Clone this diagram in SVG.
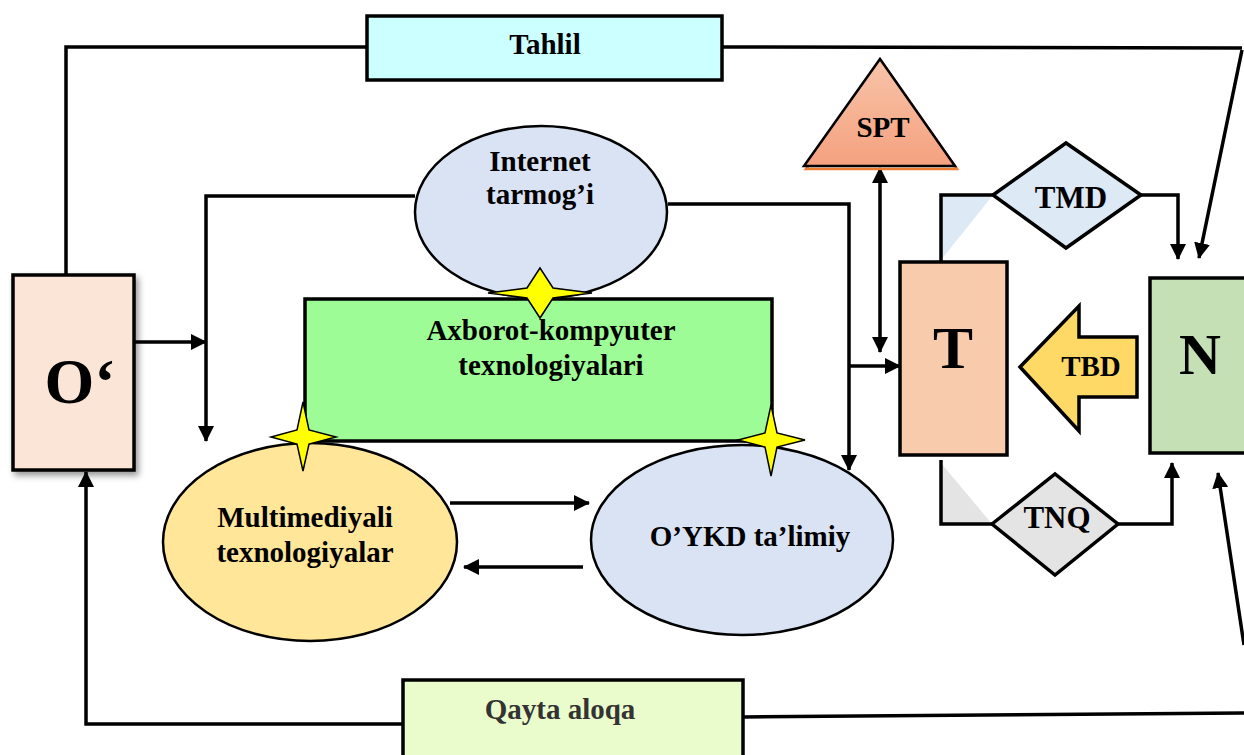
<svg xmlns="http://www.w3.org/2000/svg" width="1244" height="755" viewBox="0 0 1244 755">
<style>
  .lbl{font-family:"Liberation Serif","Times New Roman",serif;font-weight:bold;fill:#000;text-anchor:middle}
  .box{stroke:#000;stroke-width:3.5}
  .ell{stroke:#000;stroke-width:2.5}
  .con{fill:none;stroke:#000;stroke-width:3.5}
  .star{fill:#ffff00;stroke:#000;stroke-width:1.5}
</style>
<defs>
  <marker id="ah" markerUnits="userSpaceOnUse" markerWidth="16" markerHeight="16" refX="15" refY="8" orient="auto-start-reverse" viewBox="0 0 16 16">
    <path d="M0,0 L16,8 L0,16 z" fill="#000"/>
  </marker>
  <linearGradient id="spt" x1="0" y1="0" x2="0" y2="1">
    <stop offset="0" stop-color="#f8c4a8"/>
    <stop offset="1" stop-color="#f4a17f"/>
  </linearGradient>
  <filter id="sh" x="-20%" y="-20%" width="150%" height="150%">
    <feDropShadow dx="3" dy="4" stdDeviation="3" flood-color="#000" flood-opacity="0.4"/>
  </filter>
</defs>

<g id="connectors">
  <!-- Tahlil loop -->
  <polyline class="con" points="367,47 66,47 66,275"/>
  <polyline class="con" points="722,47 1242,48"/>
  <line class="con" x1="1242" y1="50" x2="1199" y2="258" marker-end="url(#ah)"/>
  <!-- Qayta aloqa loop -->
  <polyline class="con" points="403,724 86,724 86,472" marker-end="url(#ah)"/>
  <polyline class="con" points="743,717 1244,713"/>
  <line class="con" x1="1244" y1="645" x2="1218" y2="473" marker-end="url(#ah)"/>
  <!-- O' to left branch -->
  <line class="con" x1="135" y1="342" x2="206" y2="342" stroke-width="3" marker-end="url(#ah)"/>
  <polyline class="con" points="415,196 206,196 206,441" marker-end="url(#ah)"/>
  <!-- Internet to right branch -->
  <polyline class="con" points="668,204 849,204 849,470" marker-end="url(#ah)"/>
  <line class="con" x1="849" y1="366" x2="900" y2="366" stroke-width="2" marker-end="url(#ah)"/>
  <!-- SPT double arrow -->
  <line class="con" x1="880" y1="168" x2="880" y2="352" stroke-width="3" marker-start="url(#ah)" marker-end="url(#ah)"/>
  <!-- between ellipses -->
  <line class="con" x1="450" y1="503" x2="589" y2="503" marker-end="url(#ah)"/>
  <line class="con" x1="583" y1="567" x2="464" y2="567" stroke-width="5" marker-end="url(#ah)"/>
  <!-- T to TMD to N -->
  <polygon points="941,195 993,195 941,260" fill="#dde9f5"/>
  <polyline class="con" points="941,261 941,195 993,195"/>
  <polyline class="con" points="1141,195 1178,195 1178,259" marker-end="url(#ah)"/>
  <!-- T to TNQ to N -->
  <polygon points="941,463 992,524 941,524" fill="#e4e4e4"/>
  <polyline class="con" points="941,460 941,524 992,524"/>
  <polyline class="con" points="1118,524 1172,524 1172,463" marker-end="url(#ah)"/>
</g>

<g id="tahlil">
  <rect class="box" x="367" y="16" width="355" height="64" fill="#ccffff" stroke-width="3"/>
  <text class="lbl" x="545" y="54" font-size="29">Tahlil</text>
</g>

<g id="o">
  <rect class="box" x="13" y="275" width="121" height="195" fill="#fbe5d6" filter="url(#sh)"/>
  <text class="lbl" x="80" y="403" font-size="64">O‘</text>
</g>

<g id="internet">
  <ellipse class="ell" cx="541" cy="212" rx="126" ry="86" fill="#dae3f3"/>
  <text class="lbl" x="540" y="171" font-size="29">Internet</text>
  <text class="lbl" x="540" y="204" font-size="29">tarmog’i</text>
</g>

<g id="multimedia">
  <ellipse class="ell" cx="310" cy="542" rx="147" ry="99" fill="#ffe699"/>
  <text class="lbl" x="305" y="527" font-size="29">Multimediyali</text>
  <text class="lbl" x="305" y="562" font-size="29">texnologiyalar</text>
</g>

<g id="oykd">
  <ellipse class="ell" cx="742" cy="540" rx="151" ry="95" fill="#dae3f3"/>
  <text class="lbl" x="750" y="546" font-size="29">O’YKD ta’limiy</text>
</g>

<g id="axborot">
  <rect class="box" x="305" y="299" width="467" height="142" fill="#9efc96" stroke-width="4"/>
  <text class="lbl" x="551" y="340" font-size="29">Axborot-kompyuter</text>
  <text class="lbl" x="551" y="375" font-size="29">texnologiyalari</text>
</g>

<g id="stars">
  <path class="star" d="M540,268 L553,288 L592,293 L553,298 L540,318 L527,298 L488,293 L527,288 z"/>
  <path class="star" d="M303,402 L309,430 L336,437 L309,444 L303,471 L297,444 L271,437 L297,430 z"/>
  <path class="star" d="M771,405 L777,433 L805,440 L777,447 L771,476 L765,447 L738,440 L765,433 z"/>
</g>

<g id="spt">
  <polygon points="882,62 957,169 806,169" fill="none" stroke="#ed7d31" stroke-width="2.5"/>
  <polygon points="880,59 955,166 804,166" fill="url(#spt)" stroke="#000" stroke-width="2.5"/>
  <text class="lbl" x="883" y="137" font-size="29">SPT</text>
</g>

<g id="tmd">
  <polygon points="993,195 1066,143 1141,195 1066,248" fill="#dde9f5" stroke="#000" stroke-width="3.5"/>
  <text class="lbl" x="1071" y="208" font-size="31">TMD</text>
</g>

<g id="tnq">
  <polygon points="992,524 1055,474 1118,524 1055,575" fill="#e4e4e4" stroke="#000" stroke-width="3.5"/>
  <text class="lbl" x="1057" y="528" font-size="31">TNQ</text>
</g>

<g id="t">
  <rect class="box" x="900" y="262" width="107" height="193" fill="#f8cbad"/>
  <text class="lbl" x="953" y="368" font-size="60">T</text>
</g>

<g id="tbd">
  <polygon points="1020,367 1079,306 1079,337 1137,337 1137,397 1079,397 1079,431" fill="#ffd966" stroke="#000" stroke-width="3.5"/>
  <text class="lbl" x="1091" y="376" font-size="29">TBD</text>
</g>

<g id="n">
  <rect class="box" x="1150" y="278" width="100" height="175" fill="#c5e0b4"/>
  <text class="lbl" x="1200" y="374" font-size="58">N</text>
</g>

<g id="qayta">
  <rect class="box" x="403" y="680" width="340" height="80" fill="#ebfccc"/>
  <text class="lbl" x="560" y="719" font-size="29" style="fill:#333">Qayta aloqa</text>
</g>
</svg>
